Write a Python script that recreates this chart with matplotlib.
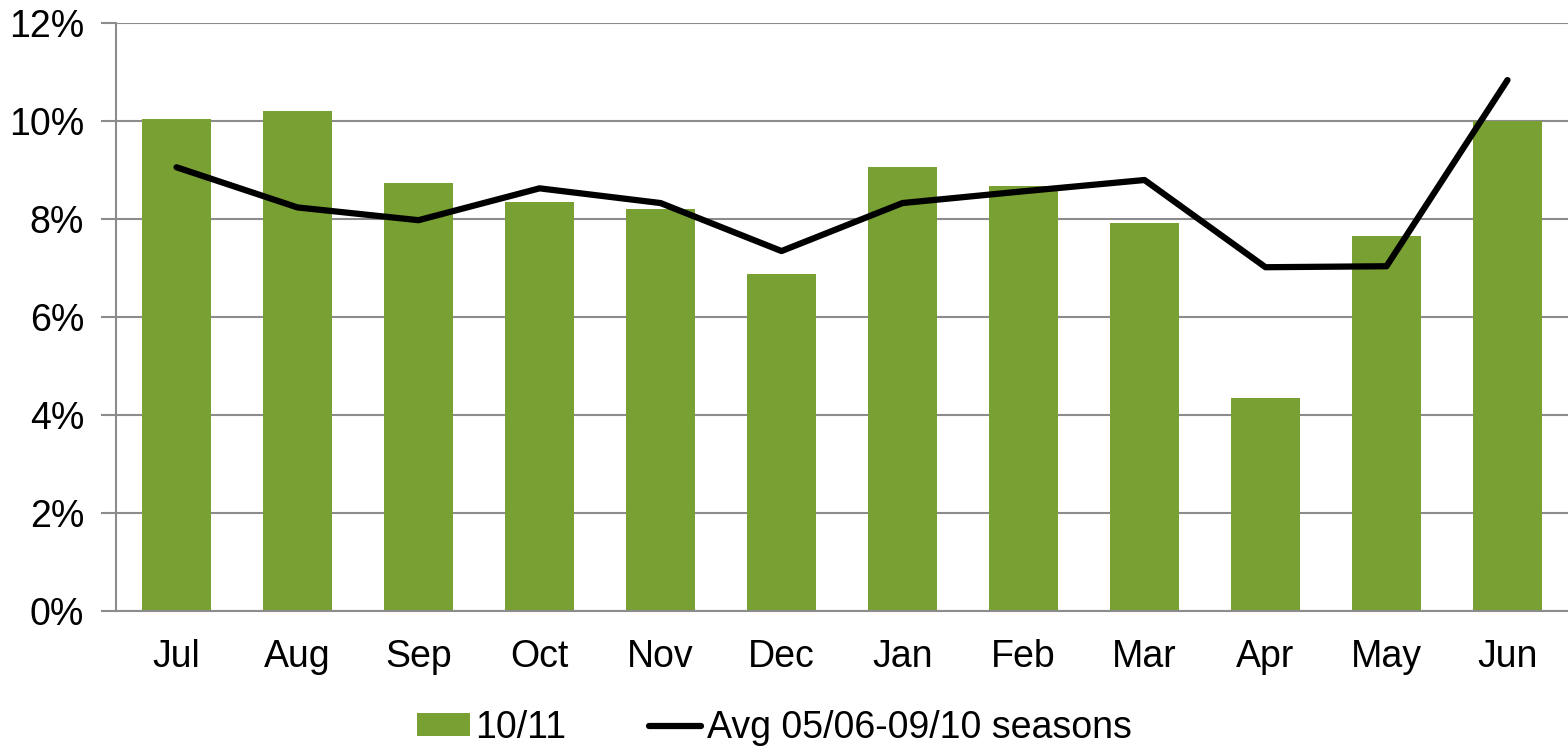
import numpy as np
import matplotlib
matplotlib.use("Agg")
import matplotlib.pyplot as plt
from matplotlib.ticker import FuncFormatter

plt.rcParams["font.family"] = ["Liberation Sans", "DejaVu Sans"]

months = ["Jul", "Aug", "Sep", "Oct", "Nov", "Dec", "Jan", "Feb", "Mar", "Apr", "May", "Jun"]
season_1011 = [10.05, 10.20, 8.73, 8.35, 8.20, 6.88, 9.06, 8.67, 7.92, 4.35, 7.65, 10.00]
avg_0510 = [9.06, 8.24, 7.98, 8.63, 8.33, 7.35, 8.33, 8.57, 8.80, 7.02, 7.04, 10.84]

GREEN = "#78A032"
GRID = "#8C8C8C"
FS = 27

fig = plt.figure(figsize=(15.68, 7.49), dpi=100)
ax = fig.add_axes([0.074, 0.184, 0.926, 0.785])

x = np.arange(len(months))
bars = ax.bar(x, season_1011, width=0.57, color=GREEN, label="10/11", zorder=2)
line, = ax.plot(x, avg_0510, color="black", linewidth=4.5, solid_capstyle="round",
                label="Avg 05/06-09/10 seasons", zorder=3)

ax.set_xlim(-0.5, 11.5)
ax.set_ylim(0, 12)
ax.set_yticks(np.arange(0, 13, 2))
ax.yaxis.set_major_formatter(FuncFormatter(lambda v, _: f"{v:.0f}%"))
ax.set_xticks(x)
ax.set_xticklabels(months)

ax.grid(axis="y", color=GRID, linewidth=1.5, zorder=1)
for s in ["top", "right"]:
    ax.spines[s].set_visible(False)
for s in ["left", "bottom"]:
    ax.spines[s].set_color(GRID)
    ax.spines[s].set_linewidth(1.5)

ax.tick_params(axis="y", length=11, width=1.5, color=GRID, labelsize=FS, pad=12)
ax.tick_params(axis="x", length=0, labelsize=FS, pad=20)

fig.legend(handles=[bars, line], loc="center", bbox_to_anchor=(0.494, 0.028), ncol=2,
           frameon=False, fontsize=FS, handlelength=1.4, handleheight=0.55,
           handletextpad=0.15, columnspacing=2.2, borderaxespad=0, borderpad=0)

fig.savefig("out.png", dpi=100)
